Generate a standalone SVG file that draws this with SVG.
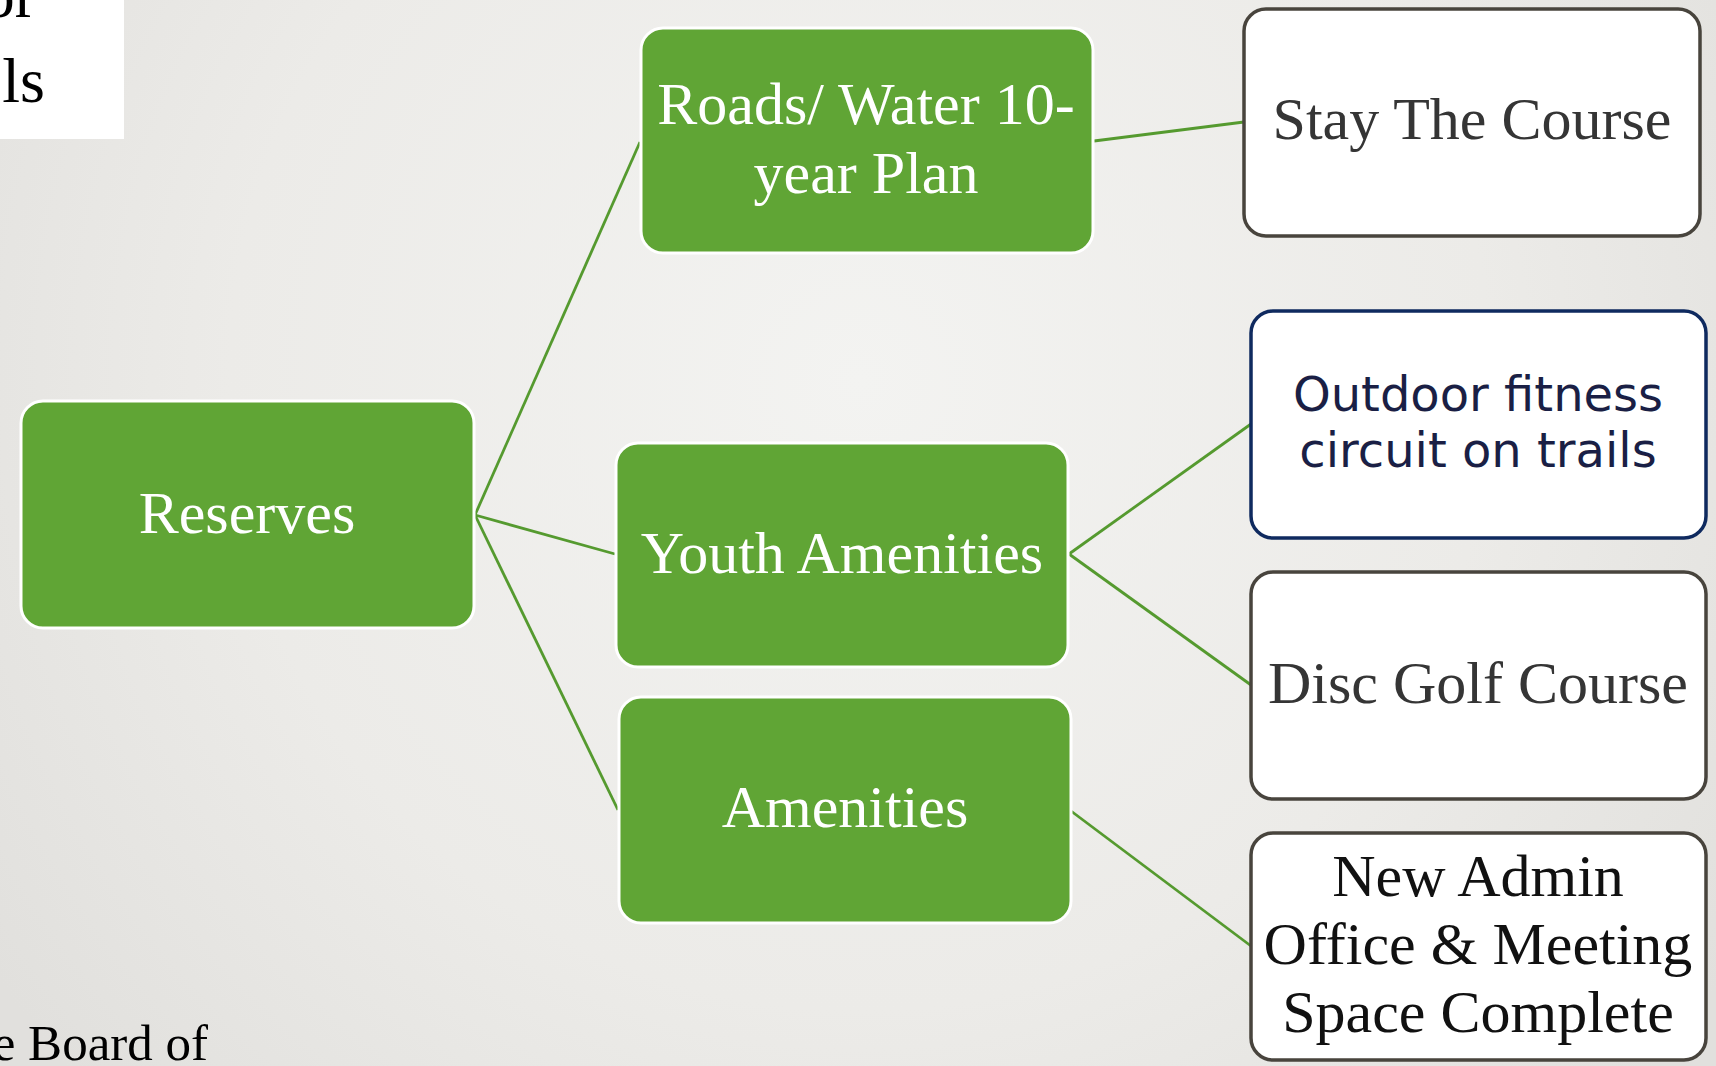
<svg xmlns="http://www.w3.org/2000/svg" width="1716" height="1066" viewBox="0 0 1716 1066">
  <defs>
    <radialGradient id="bg" cx="860" cy="380" r="1050" gradientUnits="userSpaceOnUse">
      <stop offset="0" stop-color="#f3f3f1"/>
      <stop offset="0.6" stop-color="#ecebe8"/>
      <stop offset="1" stop-color="#e1e0dd"/>
    </radialGradient>
    <style>
      .green { fill: #60a535; stroke: #ffffff; stroke-width: 3; }
      .plain { fill: #ffffff; stroke: #48443d; stroke-width: 3.5; }
      .navy { fill: #ffffff; stroke: #0f2a5f; stroke-width: 3.5; }
      .serif { font-family: "Liberation Serif", "Times New Roman", serif; font-size: 60px; text-anchor: middle; }
      .wt { fill: #ffffff; }
      .dk { fill: #353535; }
      .bk { fill: #111111; }
      .sans { font-family: "DejaVu Sans", Verdana, sans-serif; font-size: 48px; fill: #1a1f45; text-anchor: middle; }
      .link { stroke: #559a2f; stroke-width: 2.8; fill: none; }
      .slide { font-family: "Liberation Serif", "Times New Roman", serif; fill: #000000; text-anchor: end; }
    </style>
  </defs>

  <!-- slide background -->
  <rect x="0" y="0" width="1716" height="1066" fill="url(#bg)"/>

  <!-- title panel remnant, top left -->
  <g id="title-panel">
    <rect x="0" y="0" width="124" height="139" fill="#ffffff"/>
    <text class="slide" x="36" y="17" font-size="64">or</text>
    <text class="slide" x="45" y="102" font-size="64">ls</text>
  </g>

  <!-- footer text, bottom left -->
  <text id="footer" class="slide" x="208" y="1060" font-size="51">e Board of</text>

  <!-- connectors -->
  <g id="connectors">
    <line class="link" x1="475" y1="515" x2="640" y2="142"/>
    <line class="link" x1="475" y1="515" x2="615" y2="554"/>
    <line class="link" x1="475" y1="515" x2="618" y2="810"/>
    <line class="link" x1="1094" y1="141" x2="1244" y2="122"/>
    <line class="link" x1="1069" y1="554" x2="1251" y2="424"/>
    <line class="link" x1="1069" y1="554" x2="1251" y2="685"/>
    <line class="link" x1="1071" y1="811" x2="1251" y2="946"/>
  </g>

  <g id="reserves">
    <rect class="green" x="21" y="401" width="453" height="227" rx="22"/>
    <text class="serif wt" x="247" y="533">Reserves</text>
  </g>

  <g id="roads-water">
    <rect class="green" x="641" y="28" width="452" height="225" rx="22"/>
    <text class="serif wt" x="866" y="124">Roads/ Water 10-</text>
    <text class="serif wt" x="866" y="193">year Plan</text>
  </g>

  <g id="youth-amenities">
    <rect class="green" x="616" y="443" width="452" height="224" rx="22"/>
    <text class="serif wt" x="842" y="573">Youth Amenities</text>
  </g>

  <g id="amenities">
    <rect class="green" x="619" y="697" width="452" height="226" rx="22"/>
    <text class="serif wt" x="845" y="827">Amenities</text>
  </g>

  <g id="stay-the-course">
    <rect class="plain" x="1244" y="9" width="456" height="227" rx="22"/>
    <text class="serif dk" x="1472" y="139">Stay The Course</text>
  </g>

  <g id="outdoor-fitness">
    <rect class="navy" x="1251" y="311" width="455" height="227" rx="22"/>
    <text class="sans" x="1478" y="411">Outdoor fitness</text>
    <text class="sans" x="1478" y="467">circuit on trails</text>
  </g>

  <g id="disc-golf">
    <rect class="plain" x="1251" y="572" width="455" height="227" rx="22"/>
    <text class="serif dk" x="1478" y="703">Disc Golf Course</text>
  </g>

  <g id="new-admin">
    <rect class="plain" x="1251" y="833" width="455" height="227" rx="22"/>
    <text class="serif bk" x="1478" y="896">New Admin</text>
    <text class="serif bk" x="1478" y="964">Office &amp; Meeting</text>
    <text class="serif bk" x="1478" y="1032">Space Complete</text>
  </g>
</svg>
